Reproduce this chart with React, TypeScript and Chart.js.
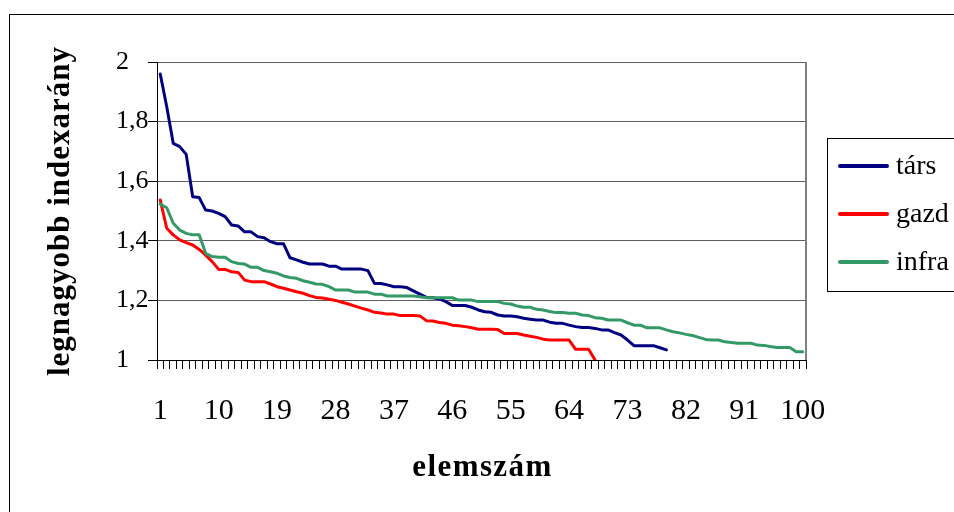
import React, { useEffect, useRef } from "react";
import { Chart, registerables } from "chart.js";

Chart.register(...registerables);

const categories: string[] = [
  "1","2","3","4","5","6","7","8","9","10","11","12","13","14","15","16","17","18","19","20",
  "21","22","23","24","25","26","27","28","29","30","31","32","33","34","35","36","37","38","39","40",
  "41","42","43","44","45","46","47","48","49","50","51","52","53","54","55","56","57","58","59","60",
  "61","62","63","64","65","66","67","68","69","70","71","72","73","74","75","76","77","78","79","80",
  "81","82","83","84","85","86","87","88","89","90","91","92","93","94","95","96","97","98","99","100",
];

const tars: number[] = [
  1.96, 1.85, 1.727, 1.716, 1.69, 1.548, 1.545, 1.503, 1.5, 1.492,
  1.481, 1.453, 1.45, 1.43, 1.43, 1.414, 1.41, 1.397, 1.39, 1.39,
  1.343, 1.336, 1.328, 1.322, 1.322, 1.322, 1.315, 1.315, 1.305, 1.305,
  1.305, 1.305, 1.3, 1.257, 1.257, 1.252, 1.246, 1.246, 1.243, 1.232,
  1.221, 1.21, 1.209, 1.205, 1.196, 1.183, 1.183, 1.183, 1.177, 1.168,
  1.162, 1.16, 1.151, 1.148, 1.148, 1.145, 1.14, 1.137, 1.134, 1.134,
  1.127, 1.123, 1.123, 1.117, 1.112, 1.109, 1.109, 1.106, 1.101, 1.101,
  1.092, 1.084, 1.067, 1.048, 1.048, 1.048, 1.048, 1.041, 1.034,
];

const gazd: number[] = [
  1.537, 1.442, 1.42, 1.403, 1.394, 1.386, 1.371, 1.352, 1.33, 1.304,
  1.304, 1.296, 1.294, 1.268, 1.263, 1.263, 1.263, 1.255, 1.246, 1.241,
  1.235, 1.229, 1.224, 1.216, 1.21, 1.208, 1.204, 1.2, 1.194, 1.188,
  1.181, 1.174, 1.168, 1.16, 1.158, 1.154, 1.154, 1.149, 1.149, 1.149,
  1.148, 1.132, 1.131, 1.126, 1.123, 1.117, 1.115, 1.112, 1.108, 1.103,
  1.103, 1.103, 1.102, 1.089, 1.089, 1.089, 1.084, 1.08, 1.076, 1.07,
  1.067, 1.067, 1.067, 1.067, 1.036, 1.036, 1.036, 1.0,
];

const infra: number[] = [
  1.523, 1.511, 1.459, 1.436, 1.425, 1.42, 1.42, 1.358, 1.347, 1.345,
  1.345, 1.33, 1.324, 1.322, 1.311, 1.311, 1.3, 1.296, 1.291, 1.282,
  1.277, 1.274, 1.266, 1.261, 1.255, 1.254, 1.246, 1.235, 1.235, 1.235,
  1.228, 1.228, 1.228, 1.221, 1.221, 1.215, 1.215, 1.215, 1.215, 1.215,
  1.212, 1.209, 1.209, 1.209, 1.209, 1.209, 1.201, 1.201, 1.201, 1.196,
  1.196, 1.196, 1.196, 1.19, 1.188, 1.181, 1.177, 1.177, 1.17, 1.168,
  1.163, 1.159, 1.159, 1.157, 1.157, 1.151, 1.149, 1.142, 1.14, 1.134,
  1.134, 1.134, 1.125, 1.117, 1.117, 1.108, 1.108, 1.108, 1.101, 1.095,
  1.091, 1.086, 1.082, 1.076, 1.069, 1.067, 1.067, 1.061, 1.059, 1.056,
  1.056, 1.056, 1.05, 1.049, 1.045, 1.042, 1.042, 1.042, 1.028, 1.028,
];

const seriesNames: string[] = ["társ", "gazd", "infra"];
const seriesColors: string[] = ["#000080", "#ff0000", "#339966"];
const yTickLabels: string[] = ["1", "1,2", "1,4", "1,6", "1,8", "2"];
const xTitle = "elemszám";
const yTitle = "legnagyobb indexarány";

const FONT = "'Liberation Serif', 'Times New Roman', serif";

const framePlugin = {
  id: "frame",
  beforeDraw(chart: any) {
    const ctx = chart.ctx;
    ctx.save();
    ctx.fillStyle = "#ffffff";
    ctx.fillRect(0, 0, chart.width, chart.height);
    ctx.strokeStyle = "#000000";
    ctx.lineWidth = 1;
    ctx.strokeRect(9.5, 14.5, 2000, 2000);
    ctx.restore();
  },
  beforeDatasetsDraw(chart: any) {
    const { ctx, chartArea } = chart;
    ctx.save();
    ctx.strokeStyle = "#808080";
    ctx.lineWidth = 2;
    ctx.beginPath();
    ctx.moveTo(chartArea.right, chartArea.top);
    ctx.lineTo(chartArea.right, chartArea.bottom);
    ctx.stroke();
    ctx.restore();
  },
  afterDraw(chart: any) {
    const { ctx, chartArea } = chart;
    // axis titles
    ctx.save();
    ctx.fillStyle = "#000000";
    ctx.font = `bold 31px ${FONT}`;
    ctx.textBaseline = "middle";
    ctx.textAlign = "center";
    (ctx as any).letterSpacing = "1.4px";
    ctx.fillText(xTitle, (chartArea.left + chartArea.right) / 2 + 1, 468);
    (ctx as any).letterSpacing = "1px";
    ctx.translate(61, (chartArea.top + chartArea.bottom) / 2);
    ctx.rotate(-Math.PI / 2);
    ctx.fillText(yTitle, 0, 0);
    ctx.restore();

    // legend
    ctx.save();
    ctx.strokeStyle = "#000000";
    ctx.lineWidth = 1;
    ctx.strokeRect(827.5, 138.5, 400, 153);
    const ys = [166, 214, 262];
    chart.data.datasets.forEach((ds: any, i: number) => {
      ctx.strokeStyle = ds.borderColor;
      ctx.lineWidth = 4;
      ctx.lineCap = "round";
      ctx.beginPath();
      ctx.moveTo(840, ys[i]);
      ctx.lineTo(887, ys[i]);
      ctx.stroke();
      ctx.fillStyle = "#000000";
      ctx.font = `28px ${FONT}`;
      ctx.textBaseline = "middle";
      ctx.textAlign = "left";
      ctx.fillText(ds.label, 896, ys[i] + 1);
    });
    ctx.restore();
  },
};

export default function App() {
  const ref = useRef<HTMLCanvasElement | null>(null);
  useEffect(() => {
    if (!ref.current) return;
    const datasets = [tars, gazd, infra].map((d, i) => ({
      label: seriesNames[i],
      data: d,
      borderColor: seriesColors[i],
      backgroundColor: seriesColors[i],
      borderWidth: 3,
      pointRadius: 0,
      tension: 0,
      fill: false,
      borderJoinStyle: "round" as const,
      borderCapStyle: "round" as const,
      order: 3 - i,
    }));
    const chart = new Chart(ref.current, {
      type: "line",
      data: { labels: categories, datasets },
      options: {
        animation: false,
        responsive: false,
        devicePixelRatio: 1,
        layout: { padding: { left: 116, top: 62, right: 148, bottom: 0 } },
        plugins: { legend: { display: false }, tooltip: { enabled: false }, title: { display: false } },
        scales: {
          x: {
            type: "category",
            offset: true,
            afterFit: (s: any) => { s.height = 152; },
            grid: {
              offset: true,
              drawOnChartArea: false,
              drawTicks: true,
              tickLength: 9,
              color: "#000000",
              tickColor: "#000000",
            },
            border: { display: true, color: "#000000", width: 1 },
            ticks: {
              autoSkip: false,
              maxRotation: 0,
              minRotation: 0,
              padding: 24,
              color: "#000000",
              font: { family: FONT, size: 30 },
              callback: (_v: any, i: number) => (i % 9 === 0 ? categories[i] : ""),
            },
            title: { display: false },
          },
          y: {
            min: 1,
            max: 2,
            afterFit: (s: any) => { s.width = 41; },
            ticks: {
              stepSize: 0.2,
              padding: 4,
              crossAlign: "far",
              color: "#000000",
              font: { family: FONT, size: 26 },
              callback: (_v: any, i: number) => yTickLabels[i],
            },
            grid: {
              color: "#606060",
              lineWidth: 1,
              drawTicks: true,
              tickLength: 9,
              tickColor: "#000000",
            },
            border: { display: true, color: "#000000", width: 1 },
            title: { display: false },
          },
        },
      },
      plugins: [framePlugin],
    });
    return () => chart.destroy();
  }, []);
  return (
    <div style={{ position: "absolute", left: 0, top: 0, width: 954, height: 512 }}>
      <canvas ref={ref} width={954} height={512} style={{ display: "block" }} />
    </div>
  );
}
